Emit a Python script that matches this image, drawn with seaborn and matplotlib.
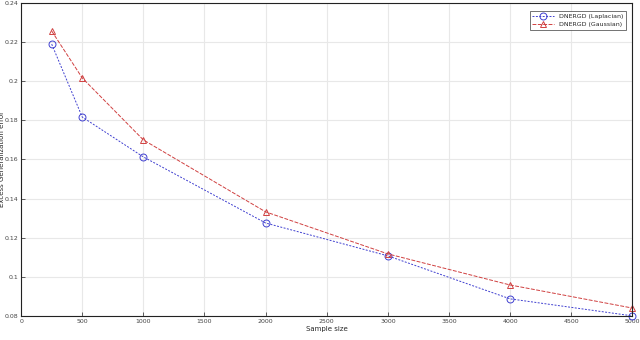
import pandas as pd
import matplotlib
matplotlib.use("Agg")
import matplotlib.pyplot as plt
import seaborn as sns

# sample sizes and errors
sample_size = [250, 500, 1000, 2000, 3000, 4000, 5000]
err_laplacian = [0.2190, 0.1817, 0.1613, 0.1275, 0.1107, 0.0887, 0.0800]
err_gaussian = [0.2257, 0.2017, 0.1700, 0.1332, 0.1117, 0.0958, 0.0840]

x_ticks = [0, 500, 1000, 1500, 2000, 2500, 3000, 3500, 4000, 4500, 5000]
y_ticks = [0.08, 0.1, 0.12, 0.14, 0.16, 0.18, 0.2, 0.22, 0.24]
y_tick_labels = ["0.08", "0.1", "0.12", "0.14", "0.16", "0.18", "0.2", "0.22", "0.24"]

df = pd.DataFrame({
    "n": sample_size * 2,
    "err": err_laplacian + err_gaussian,
    "method": ["DNERGD (Laplacian)"] * len(sample_size) + ["DNERGD (Gaussian)"] * len(sample_size),
})

sns.set_style("whitegrid")
plt.rcParams["font.family"] = ["DejaVu Sans"]

fig = plt.figure(figsize=(6.4, 3.4), dpi=100)
ax = fig.add_axes([0.033, 0.071, 0.955, 0.920])

styles = {
    "DNERGD (Laplacian)": dict(color="#4040d0", marker="o", linestyle=(0, (2, 1.5))),
    "DNERGD (Gaussian)": dict(color="#d04040", marker="^", linestyle=(0, (4, 1.5))),
}
for name, st in styles.items():
    sub = df[df["method"] == name]
    sns.lineplot(data=sub, x="n", y="err", ax=ax, label=name, color=st["color"],
                 linestyle=st["linestyle"], linewidth=0.7, marker=st["marker"],
                 markersize=5, markerfacecolor="none", markeredgecolor=st["color"],
                 markeredgewidth=0.7, clip_on=False)

ax.set_xlim(0, 5000)
ax.set_ylim(0.08, 0.24)
ax.set_xticks(x_ticks)
ax.set_yticks(y_ticks)
ax.set_yticklabels(y_tick_labels)
ax.tick_params(labelsize=4.5, direction="in", length=3, width=0.6, pad=2, colors="#444444",
               left=True, bottom=True)
ax.grid(True, color="#e8e8e8", linewidth=0.8)
for s in ax.spines.values():
    s.set_color("#222222")
    s.set_linewidth(0.8)
ax.set_xlabel("Sample size", fontsize=5, labelpad=2)
ax.set_ylabel("Excess Generalization error", fontsize=5)
ax.yaxis.set_label_coords(-0.026, 0.5)

leg = ax.legend(loc="upper right", fontsize=4.5, frameon=True, fancybox=False,
                edgecolor="#333333", borderpad=0.4, handlelength=3.5,
                bbox_to_anchor=(0.995, 0.985))
leg.get_frame().set_linewidth(0.6)

fig.savefig("out.png", dpi=100)
